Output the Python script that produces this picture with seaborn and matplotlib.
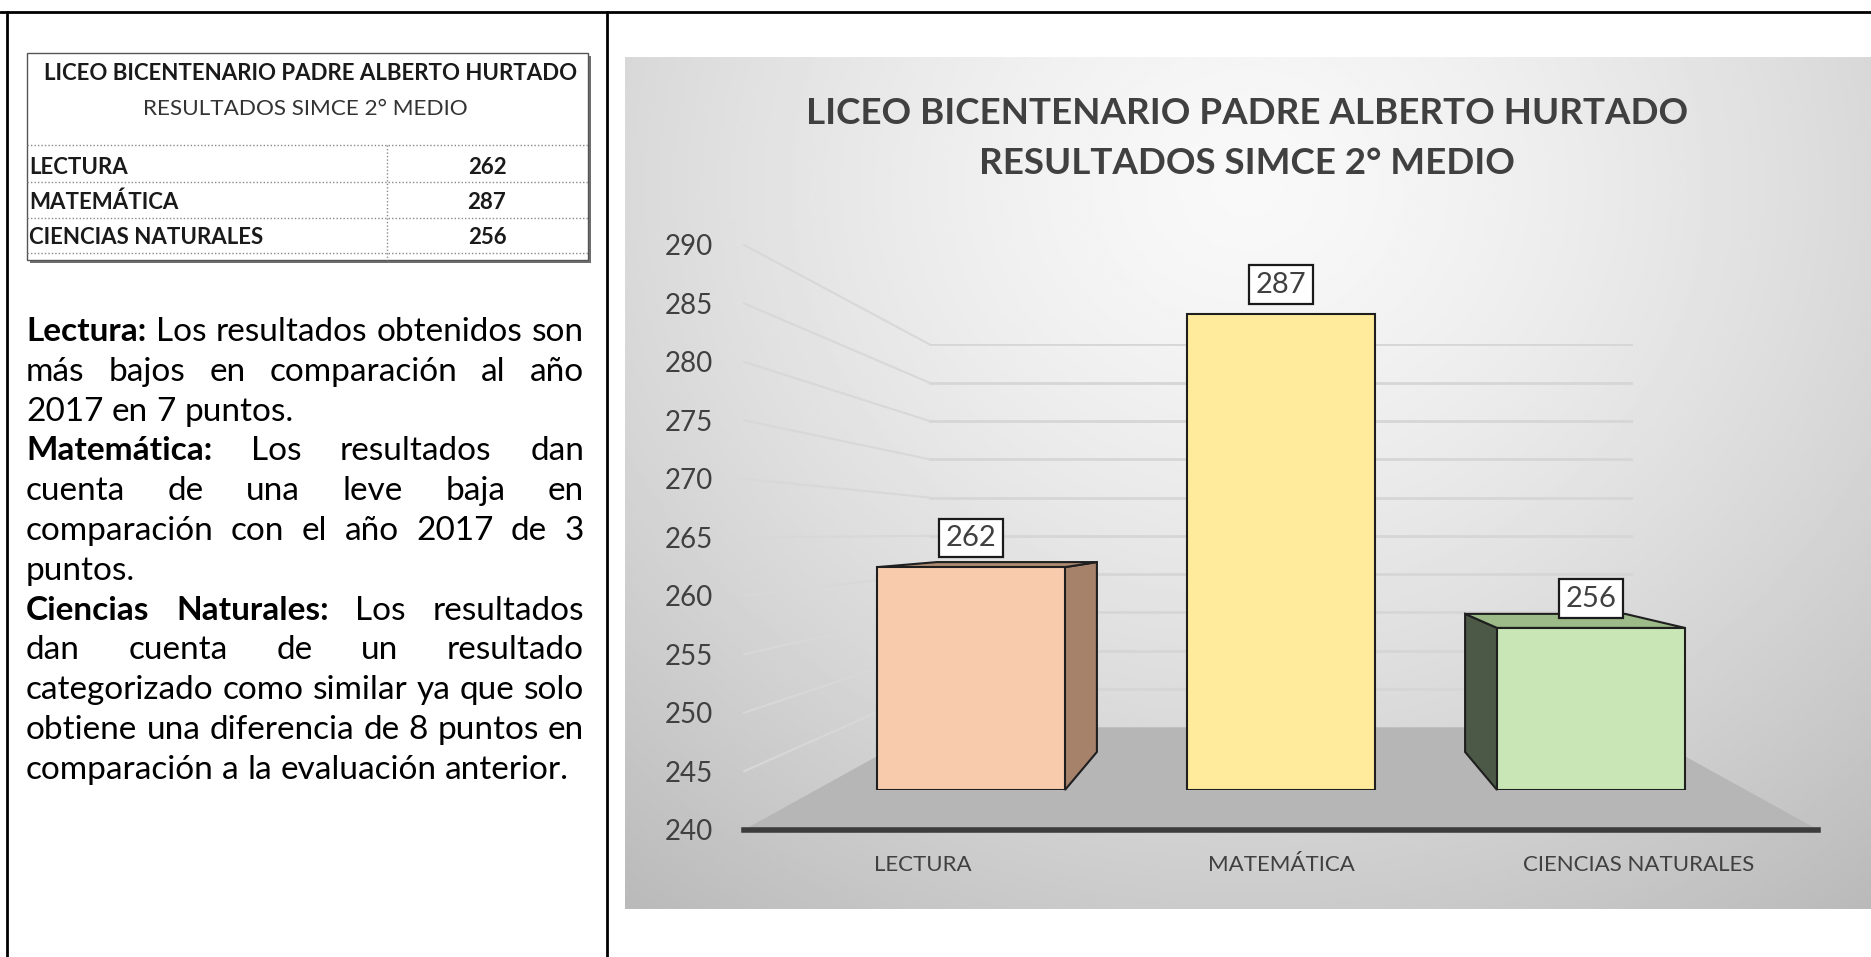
import matplotlib
matplotlib.use("Agg")
import numpy as np
import matplotlib.pyplot as plt
import seaborn as sns
from matplotlib.patches import Polygon, Rectangle
from matplotlib.lines import Line2D

# ---- data ----
subjects = ["LECTURA", "MATEMÁTICA", "CIENCIAS NATURALES"]
scores = [262, 287, 256]
y_ticks = [240, 245, 250, 255, 260, 265, 270, 275, 280, 285, 290]
school = "LICEO BICENTENARIO PADRE ALBERTO HURTADO"
subtitle = "RESULTADOS SIMCE 2° MEDIO"
note_heads = ["Lectura:", "Matemática:", "Ciencias Naturales:"]
note_lines = [
    ["Los resultados obtenidos son", "más bajos en comparación al año", "2017 en 7 puntos."],
    ["Los resultados dan", "cuenta de una leve baja en", "comparación con el año 2017 de 3", "puntos."],
    ["Los resultados", "dan cuenta de un resultado", "categorizado como similar ya que solo",
     "obtiene una diferencia de 8 puntos en", "comparación a la evaluación anterior."],
]

bar_colors = ["#f8cbad", "#ffeb9b", "#c9e7b6"]
side_colors = ["#a6826b", "#e8d27c", "#4b5946"]
top_colors = ["#ad8a71", "#f3df8e", "#9cbb89"]

W, H, DPI = 1871, 957, 100
VPX, VPY = 1281, 533          # vanishing point of the fake 3D chart (px)
HALF_W, DROP, RISE = 465, 257, 249.5
DEPTH = 0.852                 # bar back face scale toward vanishing point

sns.set_theme(style="white")
plt.rcParams["font.family"] = ["Lato", "DejaVu Sans"]

fig = plt.figure(figsize=(W / DPI, H / DPI), dpi=DPI)
fig.patch.set_facecolor("white")


def fx(x):
    return x / W


def fy(y):
    return 1 - y / H


def line(x0, y0, x1, y1, **kw):
    fig.add_artist(Line2D([fx(x0), fx(x1)], [fy(y0), fy(y1)], transform=fig.transFigure, **kw))


def plane_rect(f):
    left = VPX - f * HALF_W
    top = VPY - f * RISE
    bottom = VPY + f * DROP
    return [fx(left), fy(bottom), 2 * f * HALF_W / W, (bottom - top) / H]


# ---- page frame ----
line(0, 12, W, 12, color="black", lw=2)
line(7, 12, 7, H, color="black", lw=2)
line(607, 12, 607, H, color="black", lw=2)

# ---- summary table ----
fig.add_artist(Rectangle((fx(30), fy(263)), (588 - 27) / W, (260 - 53) / H,
                         transform=fig.transFigure, fc="#707070", ec="none"))
fig.add_artist(Rectangle((fx(27), fy(260)), (588 - 27) / W, (260 - 53) / H,
                         transform=fig.transFigure, fc="white", ec="#555555", lw=1))
dots = dict(color="#8a8a8a", lw=1, ls=(0, (1, 1.5)))
for yy in [145, 182, 218, 253]:
    line(27, yy, 588, yy, **dots)
line(387, 145, 387, 260, **dots)
fig.text(fx(311), fy(73), school, ha="center", va="center", fontsize=16, weight="bold", color="#1a1a1a")
fig.text(fx(305), fy(109), subtitle, ha="center", va="center", fontsize=16.2, color="#333333")
for i, (s, v) in enumerate(zip(subjects, scores)):
    yy = 167 + 35 * i
    fig.text(fx(29), fy(yy), s, ha="left", va="center", fontsize=16, weight="bold", color="#1a1a1a")
    fig.text(fx(487), fy(yy), str(v), ha="center", va="center", fontsize=16, weight="bold", color="#1a1a1a")

# ---- justified notes ----
renderer = fig.canvas.get_renderer()


def text_width(s, size, bold=False):
    t = fig.text(0, 0, s, fontsize=size, weight="bold" if bold else "normal")
    w = t.get_window_extent(renderer).width
    t.remove()
    return w


rows = []
for head, lines in zip(note_heads, note_lines):
    for j, ln in enumerate(lines):
        words = [(w, False) for w in ln.split()]
        if j == 0:
            words = [(w, True) for w in head.split()] + words
        rows.append((words, j < len(lines) - 1))

TX0, TX1 = 26, 584
base_fs = 20
space = text_width("a a", base_fs) - text_width("aa", base_fs)
natural = [sum(text_width(w, base_fs, b) for w, b in ws) + space * (len(ws) - 1) for ws, _ in rows]
fs = base_fs * (TX1 - TX0) / max(natural)
space = text_width("a a", fs) - text_width("aa", fs)

for i, (words, justify) in enumerate(rows):
    base = 341 + 39.8 * i
    widths = [text_width(w, fs, b) for w, b in words]
    gap = (TX1 - TX0 - sum(widths)) / (len(words) - 1) if justify and len(words) > 1 else space
    x = TX0
    for (w, b), wd in zip(words, widths):
        fig.text(fx(x), fy(base), w, ha="left", va="baseline", fontsize=fs,
                 weight="bold" if b else "normal", color="black")
        x += wd + gap

# ---- chart background ----
ax_bg = fig.add_axes([fx(625), fy(909), (W - 625) / W, (909 - 57) / H], zorder=0)
U, V = np.meshgrid(np.linspace(0, 1, 400), np.linspace(0, 1, 300))
d = np.sqrt(((U - 0.5) / 0.8) ** 2 + ((V - 0.15) / 1.05) ** 2)
shade = np.clip(0.975 - 0.24 * d ** 1.4, 0, 1)
ax_bg.imshow(shade, cmap="gray", vmin=0, vmax=1, aspect="auto", interpolation="bilinear")
ax_bg.axis("off")

# ---- planes: back wall, front axis, bars ----
ax_back = fig.add_axes(plane_rect(0.756), zorder=1)
ax_front = fig.add_axes(plane_rect(1.155), zorder=3)
ax_bar = fig.add_axes(plane_rect(1.0), zorder=4)

sns.barplot(x=subjects, y=scores, hue=subjects, palette=bar_colors, width=0.606, saturation=1,
            edgecolor="#1f1f1f", linewidth=1.5, legend=False, ax=ax_bar)

for a in (ax_back, ax_front, ax_bar):
    a.set_xlim(-0.5, 2.5)
    a.set_ylim(y_ticks[0], y_ticks[-1])
    a.set_facecolor("none")

ax_back.set_xticks([])
ax_back.set_yticks(y_ticks[1:])
ax_back.tick_params(left=False, labelleft=False)
ax_back.grid(axis="y", color="#d6d6d6", lw=2)
sns.despine(ax=ax_back, left=True, bottom=True)

ax_front.set_yticks(y_ticks)
ax_front.set_xticks(range(len(subjects)))
ax_front.set_xticklabels(subjects)
ax_front.tick_params(axis="y", length=0, pad=22, labelsize=20, labelcolor="#404040")
ax_front.tick_params(axis="x", length=0, pad=18, labelsize=16, labelcolor="#404040")
ax_front.grid(False)
sns.despine(ax=ax_front, left=True)
ax_front.spines["bottom"].set_color("#3c3c3c")
ax_front.spines["bottom"].set_linewidth(4)


def fig_pt(ax, x, y):
    return fig.transFigure.inverted().transform(ax.transData.transform((x, y)))


floor = [fig_pt(ax_front, -0.5, y_ticks[0]), fig_pt(ax_front, 2.5, y_ticks[0]),
         fig_pt(ax_back, 2.5, y_ticks[0]), fig_pt(ax_back, -0.5, y_ticks[0])]
fig.add_artist(Polygon(floor, closed=True, transform=fig.transFigure, fc="#b6b6b6", ec="none", zorder=2))
for v in y_ticks[1:]:
    a = fig_pt(ax_front, -0.5, v)
    b = fig_pt(ax_back, -0.5, v)
    fig.add_artist(Line2D([a[0], b[0]], [a[1], b[1]], transform=fig.transFigure,
                          color="#d8d8d8", lw=1.5, zorder=2))

# bars start at the floor value, then get side/top faces
bars = sorted(ax_bar.patches, key=lambda p: p.get_x())
for p in bars:
    top = p.get_y() + p.get_height()
    p.set_y(y_ticks[0])
    p.set_height(top - y_ticks[0])

to_disp = ax_bar.transData.transform
to_data = ax_bar.transData.inverted().transform
vp = np.array([VPX, H - VPY])


def back(q):
    return vp + DEPTH * (q - vp)


for p, sc, tc in zip(bars, side_colors, top_colors):
    x0, x1 = p.get_x(), p.get_x() + p.get_width()
    y0, y1 = p.get_y(), p.get_y() + p.get_height()
    bl, br, tl, tr = (to_disp((x, y)) for x, y in [(x0, y0), (x1, y0), (x0, y1), (x1, y1)])
    faces = []
    if br[0] < vp[0]:
        faces.append(([br, tr, back(tr), back(br)], sc))
    if bl[0] > vp[0]:
        faces.append(([bl, tl, back(tl), back(bl)], sc))
    if tl[1] < vp[1]:
        faces.append(([tl, tr, back(tr), back(tl)], tc))
    for pts, col in faces:
        ax_bar.add_patch(Polygon(to_data(np.array(pts)), closed=True, fc=col, ec="#1f1f1f",
                                 lw=1.5, zorder=0.9, clip_on=False))

for p, sc in zip(bars, scores):
    ax_bar.annotate(f"{sc}", xy=(p.get_x() + p.get_width() / 2, p.get_y() + p.get_height()),
                    xytext=(0, 21), textcoords="offset points", ha="center", va="center",
                    fontsize=21, color="#404040", zorder=6, annotation_clip=False,
                    bbox=dict(boxstyle="square,pad=0.22", fc="white", ec="#1a1a1a", lw=1.6))
ax_bar.axis("off")

fig.text(fx(1247), fy(113), school, ha="center", va="center", fontsize=26.5, weight="bold",
         color="#404040", zorder=10)
fig.text(fx(1247), fy(163), subtitle, ha="center", va="center", fontsize=26.5, weight="bold",
         color="#404040", zorder=10)

fig.savefig("out.png", dpi=DPI)
